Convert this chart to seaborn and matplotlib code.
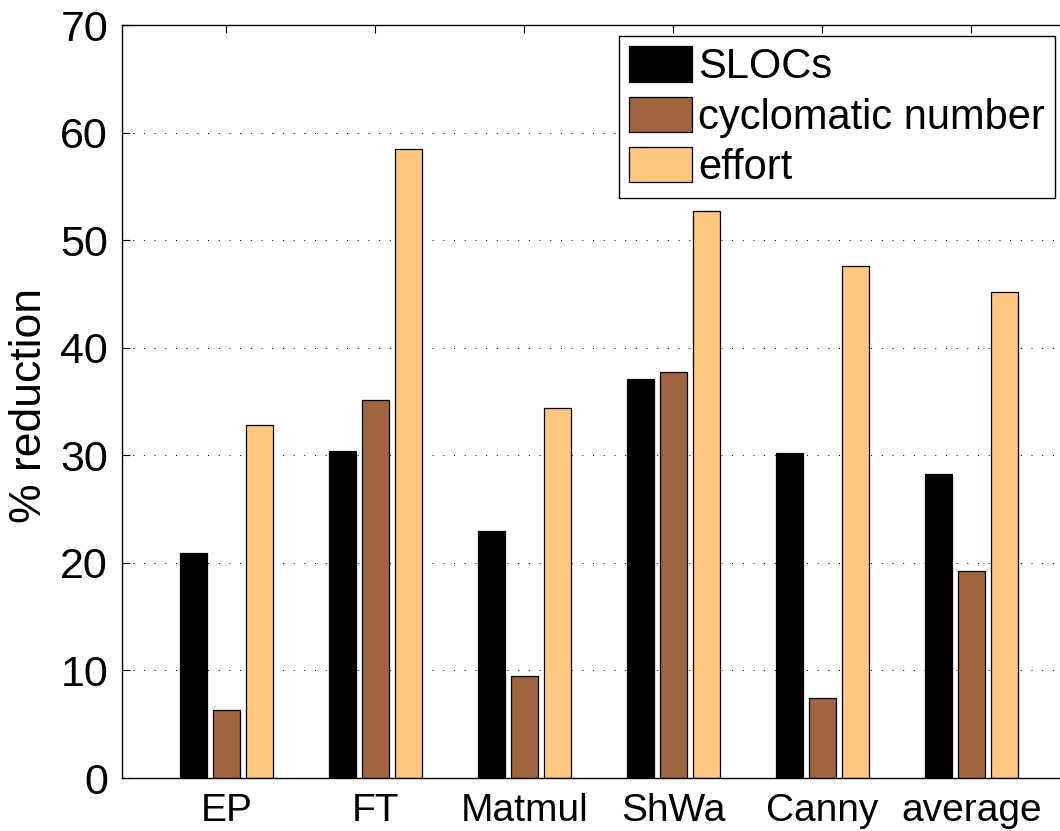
import matplotlib
matplotlib.use("Agg")
import matplotlib.pyplot as plt
import seaborn as sns
import pandas as pd

categories = ["EP", "FT", "Matmul", "ShWa", "Canny", "average"]
slocs = [20.9, 30.4, 23.0, 37.1, 30.2, 28.3]
cyclomatic = [6.3, 35.1, 9.5, 37.7, 7.4, 19.2]
effort = [32.8, 58.5, 34.4, 52.7, 47.6, 45.2]
series_names = ["SLOCs", "cyclomatic number", "effort"]
colors = ["#000000", "#A0653F", "#FFC77F"]
yticks = [0, 10, 20, 30, 40, 50, 60, 70]

rows = []
for name, vals in zip(series_names, [slocs, cyclomatic, effort]):
    for c, v in zip(categories, vals):
        rows.append({"category": c, "metric": name, "value": v})
df = pd.DataFrame(rows)

sns.set_theme(style="white")
plt.rcParams["font.family"] = ["Liberation Sans", "DejaVu Sans"]
for k in ["text.color", "axes.labelcolor", "xtick.color", "ytick.color"]:
    plt.rcParams[k] = "black"

W, H = 1060, 831
fig = plt.figure(figsize=(W / 100, H / 100), dpi=100)
left_px, top_px, bottom_px = 122, 25, 778
unit_px = 149.0
xmin, xmax = -0.70, 5.70
ax_w = (xmax - xmin) * unit_px
ax = fig.add_axes([left_px / W, 1 - bottom_px / H, ax_w / W, (bottom_px - top_px) / H])

sns.barplot(data=df, x="category", y="value", hue="metric", order=categories,
            hue_order=series_names, palette=colors, width=0.67, gap=0.19,
            edgecolor="black", linewidth=0.9, saturation=1, ax=ax)

ax.set_xlim(xmin, xmax)
ax.set_ylim(0, 70)
ax.set_yticks(yticks)
ax.set_yticklabels([str(t) for t in yticks])
ax.set_xlabel("")
ax.set_ylabel("% reduction", fontsize=32)
ax.yaxis.set_label_coords((50 - left_px) / ax_w, 0.495)

ax.set_axisbelow(True)
ax.yaxis.grid(True, linestyle=(0, (1, 10)), color="black", linewidth=0.7)
ax.xaxis.grid(False)

for s in ax.spines.values():
    s.set_visible(True)
    s.set_color("black")
    s.set_linewidth(1.0)

ax.tick_params(axis="y", direction="in", length=6, width=0.8, left=True, right=True,
               labelsize=31, pad=10, colors="black")
ax.tick_params(axis="x", direction="in", length=6, width=0.8, bottom=False, top=True,
               labelsize=28, pad=11, colors="black")

handles, labels = ax.get_legend_handles_labels()
leg = ax.legend(handles, labels, loc="upper left",
                bbox_to_anchor=(619 / W, 1 - 36 / H), bbox_transform=fig.transFigure,
                fontsize=30, frameon=True, fancybox=False, framealpha=1,
                edgecolor="black", handlelength=1.5, handleheight=0.93,
                labelspacing=0.22, handletextpad=0.15, borderpad=0.25,
                borderaxespad=0)
leg.get_frame().set_linewidth(1.0)
for t in leg.get_texts():
    t.set_color("black")

fig.savefig("out.png", dpi=100)
